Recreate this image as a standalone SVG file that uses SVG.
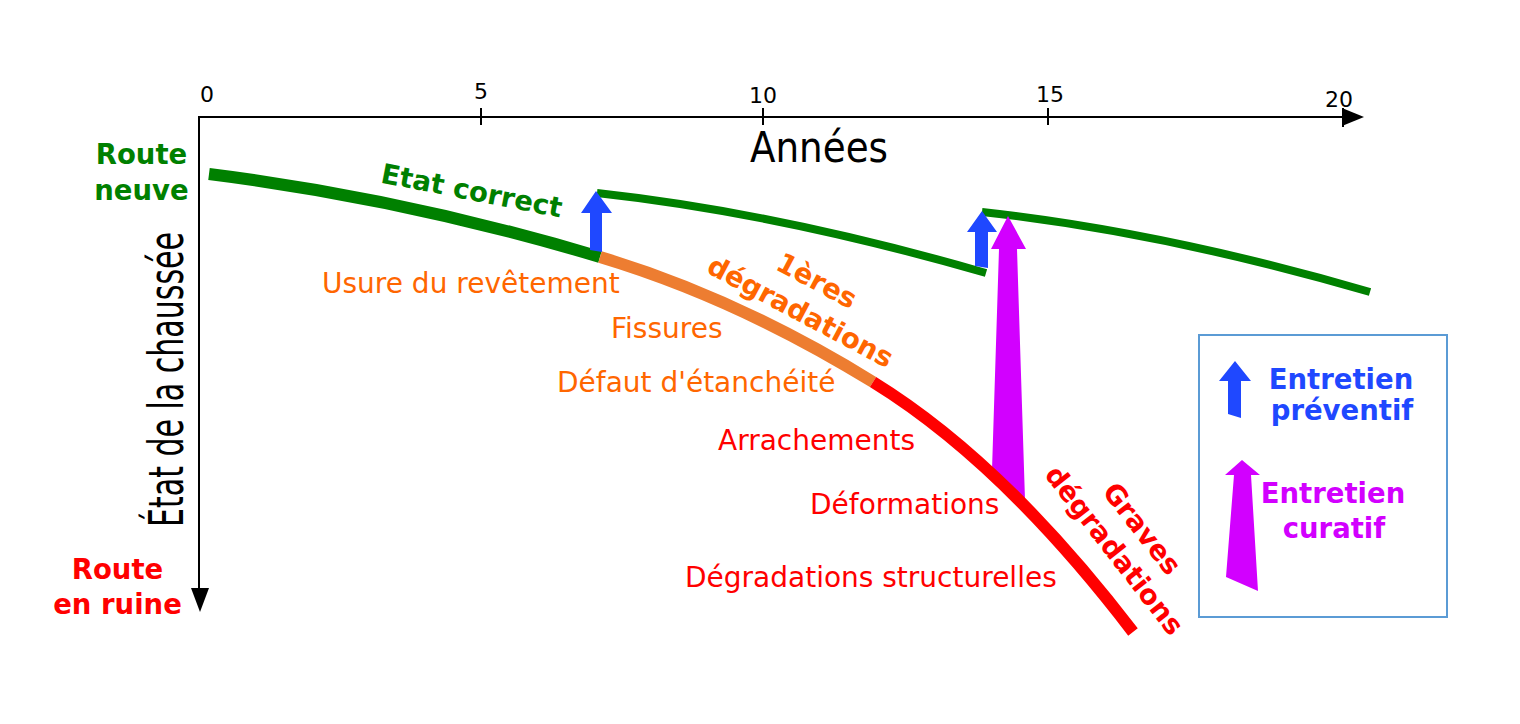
<svg xmlns="http://www.w3.org/2000/svg" width="1520" height="724" viewBox="0 0 1520 724">
<style>
text{font-family:"DejaVu Sans","Verdana","Liberation Sans",sans-serif}
.num{font-size:22px;fill:#000;text-anchor:middle}
.lbl{font-size:28px}
.b{font-size:27.5px;font-weight:bold}
.cond{font-family:"DejaVu Sans Condensed","DejaVu Sans","Liberation Sans",sans-serif;fill:#000}
.axis{stroke:#000;stroke-width:2;fill:none}
.cur{fill:none;stroke-linecap:butt}
.or{fill:#FF6600}
.rd{fill:#FF0000}
.gr{fill:#008000}
.bl{fill:#1F48FF}
.mg{fill:#D200FF}
</style>
<rect width="1520" height="724" fill="#fff"/>
<g id="axes">
<line class="axis" x1="198" y1="117" x2="1346" y2="117"/>
<polygon points="1342,108 1364,117 1342,126" fill="#000"/>
<line class="axis" x1="199" y1="116" x2="199" y2="592"/>
<polygon points="191,588 200,612 209,588" fill="#000"/>
<line class="axis" x1="481" y1="108" x2="481" y2="125"/>
<line class="axis" x1="763" y1="108" x2="763" y2="125"/>
<line class="axis" x1="1048" y1="108" x2="1048" y2="125"/>
<line class="axis" x1="1343" y1="108" x2="1343" y2="127"/>
<text class="num" x="207" y="102">0</text>
<text class="num" x="481" y="99">5</text>
<text class="num" x="763" y="103">10</text>
<text class="num" x="1050" y="102">15</text>
<text class="num" x="1339" y="107">20</text>
<text class="cond" x="750" y="162" font-size="42" textLength="138" lengthAdjust="spacingAndGlyphs">Années</text>
<text class="cond" transform="translate(183,527) rotate(-90)" font-size="48" textLength="295" lengthAdjust="spacingAndGlyphs">État de la chaussée</text>
</g>
<g id="connectors">
<path class="cur" d="M209,174 Q405,198.5 600,257" stroke="#008000" stroke-width="12"/>
<path class="cur" d="M600,257 Q736.7,298 873,382" stroke="#ED7D31" stroke-width="12"/>
<path class="cur" d="M597,193 Q779,213 986,273" stroke="#008000" stroke-width="8"/>
<path class="cur" d="M982,212 Q1164,232 1370,292" stroke="#008000" stroke-width="8"/>
<polygon class="bl" points="596,191 612,213 602,213 602,252 590,250 590,213 581,213"/>
<polygon class="bl" points="982,211 997,232 988,232 988,268 975,266 975,232 967,232"/>
<polygon class="mg" points="1008,216 1026,249 1017,249 1025,500 992,470 999,249 991,249"/>
<path class="cur" d="M873,382 Q1003,462 1133,632" stroke="#FF0000" stroke-width="12"/>
</g>
<g id="route-neuve">
<text class="b gr" text-anchor="middle"><tspan x="141.5" y="164">Route</tspan><tspan x="141.5" y="200">neuve</tspan></text>
</g>
<g id="route-ruine">
<text class="b rd" text-anchor="middle"><tspan x="117.5" y="579">Route</tspan><tspan x="117.5" y="614">en ruine</tspan></text>
</g>
<g id="etat-correct">
<text class="b gr" text-anchor="middle" transform="translate(470,200) rotate(11)">Etat correct</text>
</g>
<g id="premieres-degradations">
<text class="b or" text-anchor="middle" transform="translate(796,320) rotate(28)"><tspan x="0" y="-35">1ères</tspan><tspan x="0" y="0">dégradations</tspan></text>
<text class="lbl or" x="322" y="293">Usure du revêtement</text>
<text class="lbl or" x="611" y="338">Fissures</text>
<text class="lbl or" x="557" y="392">Défaut d'étanchéité</text>
</g>
<g id="graves-degradations">
<text class="b rd" text-anchor="middle" transform="translate(1107,556) rotate(52)"><tspan x="0" y="-35">Graves</tspan><tspan x="0" y="0">dégradations</tspan></text>
<text class="lbl rd" x="718" y="450">Arrachements</text>
<text class="lbl rd" x="810" y="514">Déformations</text>
<text class="lbl rd" x="685" y="587">Dégradations structurelles</text>
</g>
<g id="legend">
<rect x="1199" y="335" width="248" height="282" fill="none" stroke="#5B9BD5" stroke-width="2"/>
<polygon class="bl" points="1235,361 1251,381 1241,381 1241,418 1228,414 1228,381 1219,381"/>
<text class="b bl" text-anchor="middle"><tspan x="1341" y="389">Entretien</tspan><tspan x="1342" y="420">préventif</tspan></text>
<polygon class="mg" points="1242,460 1260,475 1251,475 1258,591 1226,577 1234,475 1225,475"/>
<text class="b mg" text-anchor="middle"><tspan x="1333" y="503">Entretien</tspan><tspan x="1334" y="538">curatif</tspan></text>
</g>
</svg>
